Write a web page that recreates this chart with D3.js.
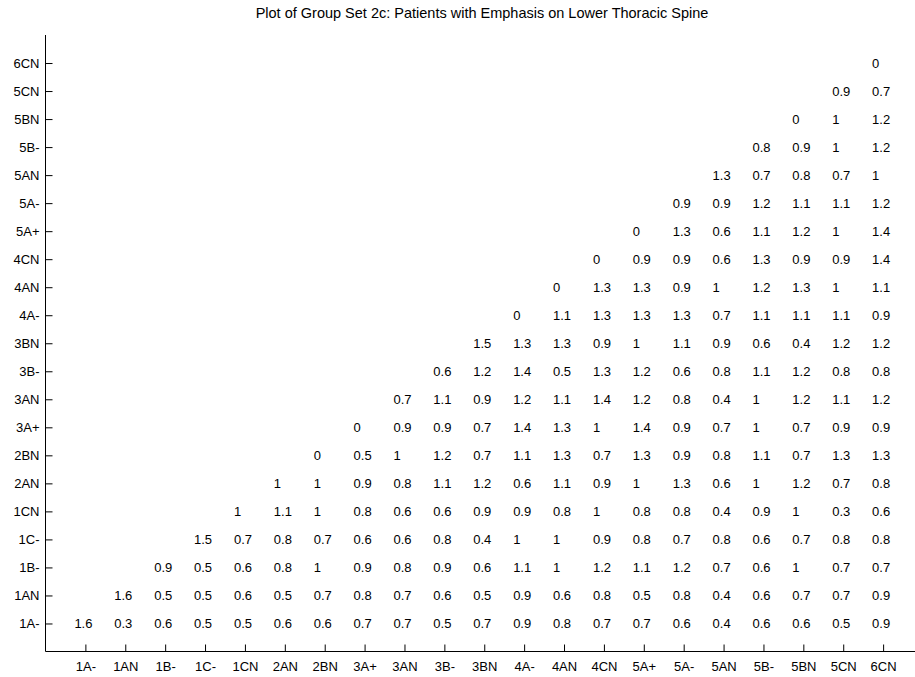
<!DOCTYPE html>
<html>
<head>
<meta charset="utf-8">
<script src="https://cdn.jsdelivr.net/npm/d3@7"></script>
<style>
  body { margin: 0; background: #fff; }
  text { font-family: "Liberation Sans", Arial, sans-serif; fill: #000; }
</style>
</head>
<body>
<div id="chart"></div>
<script>
var svgWidth = 915;
var svgHeight = 677;

// category labels, same order on both axes (1A- at origin)
var categories = ["1A-", "1AN", "1B-", "1C-", "1CN", "2AN", "2BN", "3A+", "3AN", "3B-", "3BN",
  "4A-", "4AN", "4CN", "5A+", "5A-", "5AN", "5B-", "5BN", "5CN", "6CN"];

// one row per y category, values start at the diagonal column and run to 6CN
var row1Aminus = [1.6, 0.3, 0.6, 0.5, 0.5, 0.6, 0.6, 0.7, 0.7, 0.5, 0.7, 0.9, 0.8, 0.7, 0.7, 0.6, 0.4, 0.6, 0.6, 0.5, 0.9];
var row1AN = [1.6, 0.5, 0.5, 0.6, 0.5, 0.7, 0.8, 0.7, 0.6, 0.5, 0.9, 0.6, 0.8, 0.5, 0.8, 0.4, 0.6, 0.7, 0.7, 0.9];
var row1Bminus = [0.9, 0.5, 0.6, 0.8, 1, 0.9, 0.8, 0.9, 0.6, 1.1, 1, 1.2, 1.1, 1.2, 0.7, 0.6, 1, 0.7, 0.7];
var row1Cminus = [1.5, 0.7, 0.8, 0.7, 0.6, 0.6, 0.8, 0.4, 1, 1, 0.9, 0.8, 0.7, 0.8, 0.6, 0.7, 0.8, 0.8];
var row1CN = [1, 1.1, 1, 0.8, 0.6, 0.6, 0.9, 0.9, 0.8, 1, 0.8, 0.8, 0.4, 0.9, 1, 0.3, 0.6];
var row2AN = [1, 1, 0.9, 0.8, 1.1, 1.2, 0.6, 1.1, 0.9, 1, 1.3, 0.6, 1, 1.2, 0.7, 0.8];
var row2BN = [0, 0.5, 1, 1.2, 0.7, 1.1, 1.3, 0.7, 1.3, 0.9, 0.8, 1.1, 0.7, 1.3, 1.3];
var row3Aplus = [0, 0.9, 0.9, 0.7, 1.4, 1.3, 1, 1.4, 0.9, 0.7, 1, 0.7, 0.9, 0.9];
var row3AN = [0.7, 1.1, 0.9, 1.2, 1.1, 1.4, 1.2, 0.8, 0.4, 1, 1.2, 1.1, 1.2];
var row3Bminus = [0.6, 1.2, 1.4, 0.5, 1.3, 1.2, 0.6, 0.8, 1.1, 1.2, 0.8, 0.8];
var row3BN = [1.5, 1.3, 1.3, 0.9, 1, 1.1, 0.9, 0.6, 0.4, 1.2, 1.2];
var row4Aminus = [0, 1.1, 1.3, 1.3, 1.3, 0.7, 1.1, 1.1, 1.1, 0.9];
var row4AN = [0, 1.3, 1.3, 0.9, 1, 1.2, 1.3, 1, 1.1];
var row4CN = [0, 0.9, 0.9, 0.6, 1.3, 0.9, 0.9, 1.4];
var row5Aplus = [0, 1.3, 0.6, 1.1, 1.2, 1, 1.4];
var row5Aminus = [0.9, 0.9, 1.2, 1.1, 1.1, 1.2];
var row5AN = [1.3, 0.7, 0.8, 0.7, 1];
var row5Bminus = [0.8, 0.9, 1, 1.2];
var row5BN = [0, 1, 1.2];
var row5CN = [0.9, 0.7];
var row6CN = [0];

var rows = [row1Aminus, row1AN, row1Bminus, row1Cminus, row1CN, row2AN, row2BN, row3Aplus, row3AN,
  row3Bminus, row3BN, row4Aminus, row4AN, row4CN, row5Aplus, row5Aminus, row5AN, row5Bminus,
  row5BN, row5CN, row6CN];

var titleText = "Plot of Group Set 2c: Patients with Emphasis on Lower Thoracic Spine";

// flatten into cells {x, y, v}, positions are 1-based like the original plot
var cells = [];
rows.forEach(function(r, i) {
  r.forEach(function(v, k) {
    cells.push({ x: i + k + 1, y: i + 1, v: v });
  });
});

var svg = d3.select("#chart")
  .append("svg")
  .attr("width", svgWidth)
  .attr("height", svgHeight);

var xScale = d3.scaleLinear().domain([0, 22]).range([45.5, 923]);
var yScale = d3.scaleLinear().domain([0, 22]).range([651.5, 35]);

var ticks = d3.range(1, categories.length + 1);

// x axis, ticks point inward (up)
var xAxis = svg.append("g")
  .attr("transform", "translate(0," + yScale(0) + ")")
  .call(d3.axisBottom(xScale)
    .tickValues(ticks)
    .tickSize(-7)
    .tickPadding(10)
    .tickFormat(function(d) { return categories[d - 1]; }));

// y axis, ticks point inward (right)
var yAxis = svg.append("g")
  .attr("transform", "translate(" + xScale(0) + ",0)")
  .call(d3.axisLeft(yScale)
    .tickValues(ticks)
    .tickSize(-7)
    .tickPadding(6)
    .tickFormat(function(d) { return categories[d - 1]; }));

// only the bottom and left lines, no end caps
xAxis.select(".domain").attr("stroke", "#000").attr("d", "M" + xScale(0) + ",0H" + svgWidth);
yAxis.select(".domain").attr("stroke", "#000").attr("d", "M0," + yScale(22) + "V" + yScale(0));
svg.selectAll(".tick line").attr("stroke", "#000");
svg.selectAll(".tick text")
  .style("font-size", "13px")
  .attr("fill", "#000");

// value labels
svg.append("g")
  .selectAll("text")
  .data(cells)
  .enter()
  .append("text")
  .attr("x", d => xScale(d.x) - 11)
  .attr("y", d => yScale(d.y))
  .attr("dy", "0.35em")
  .style("font-size", "13px")
  .text(d => d.v);

svg.append("text")
  .attr("x", 482)
  .attr("y", 18)
  .attr("text-anchor", "middle")
  .style("font-size", "14.5px")
  .text(titleText);
</script>
</body>
</html>
